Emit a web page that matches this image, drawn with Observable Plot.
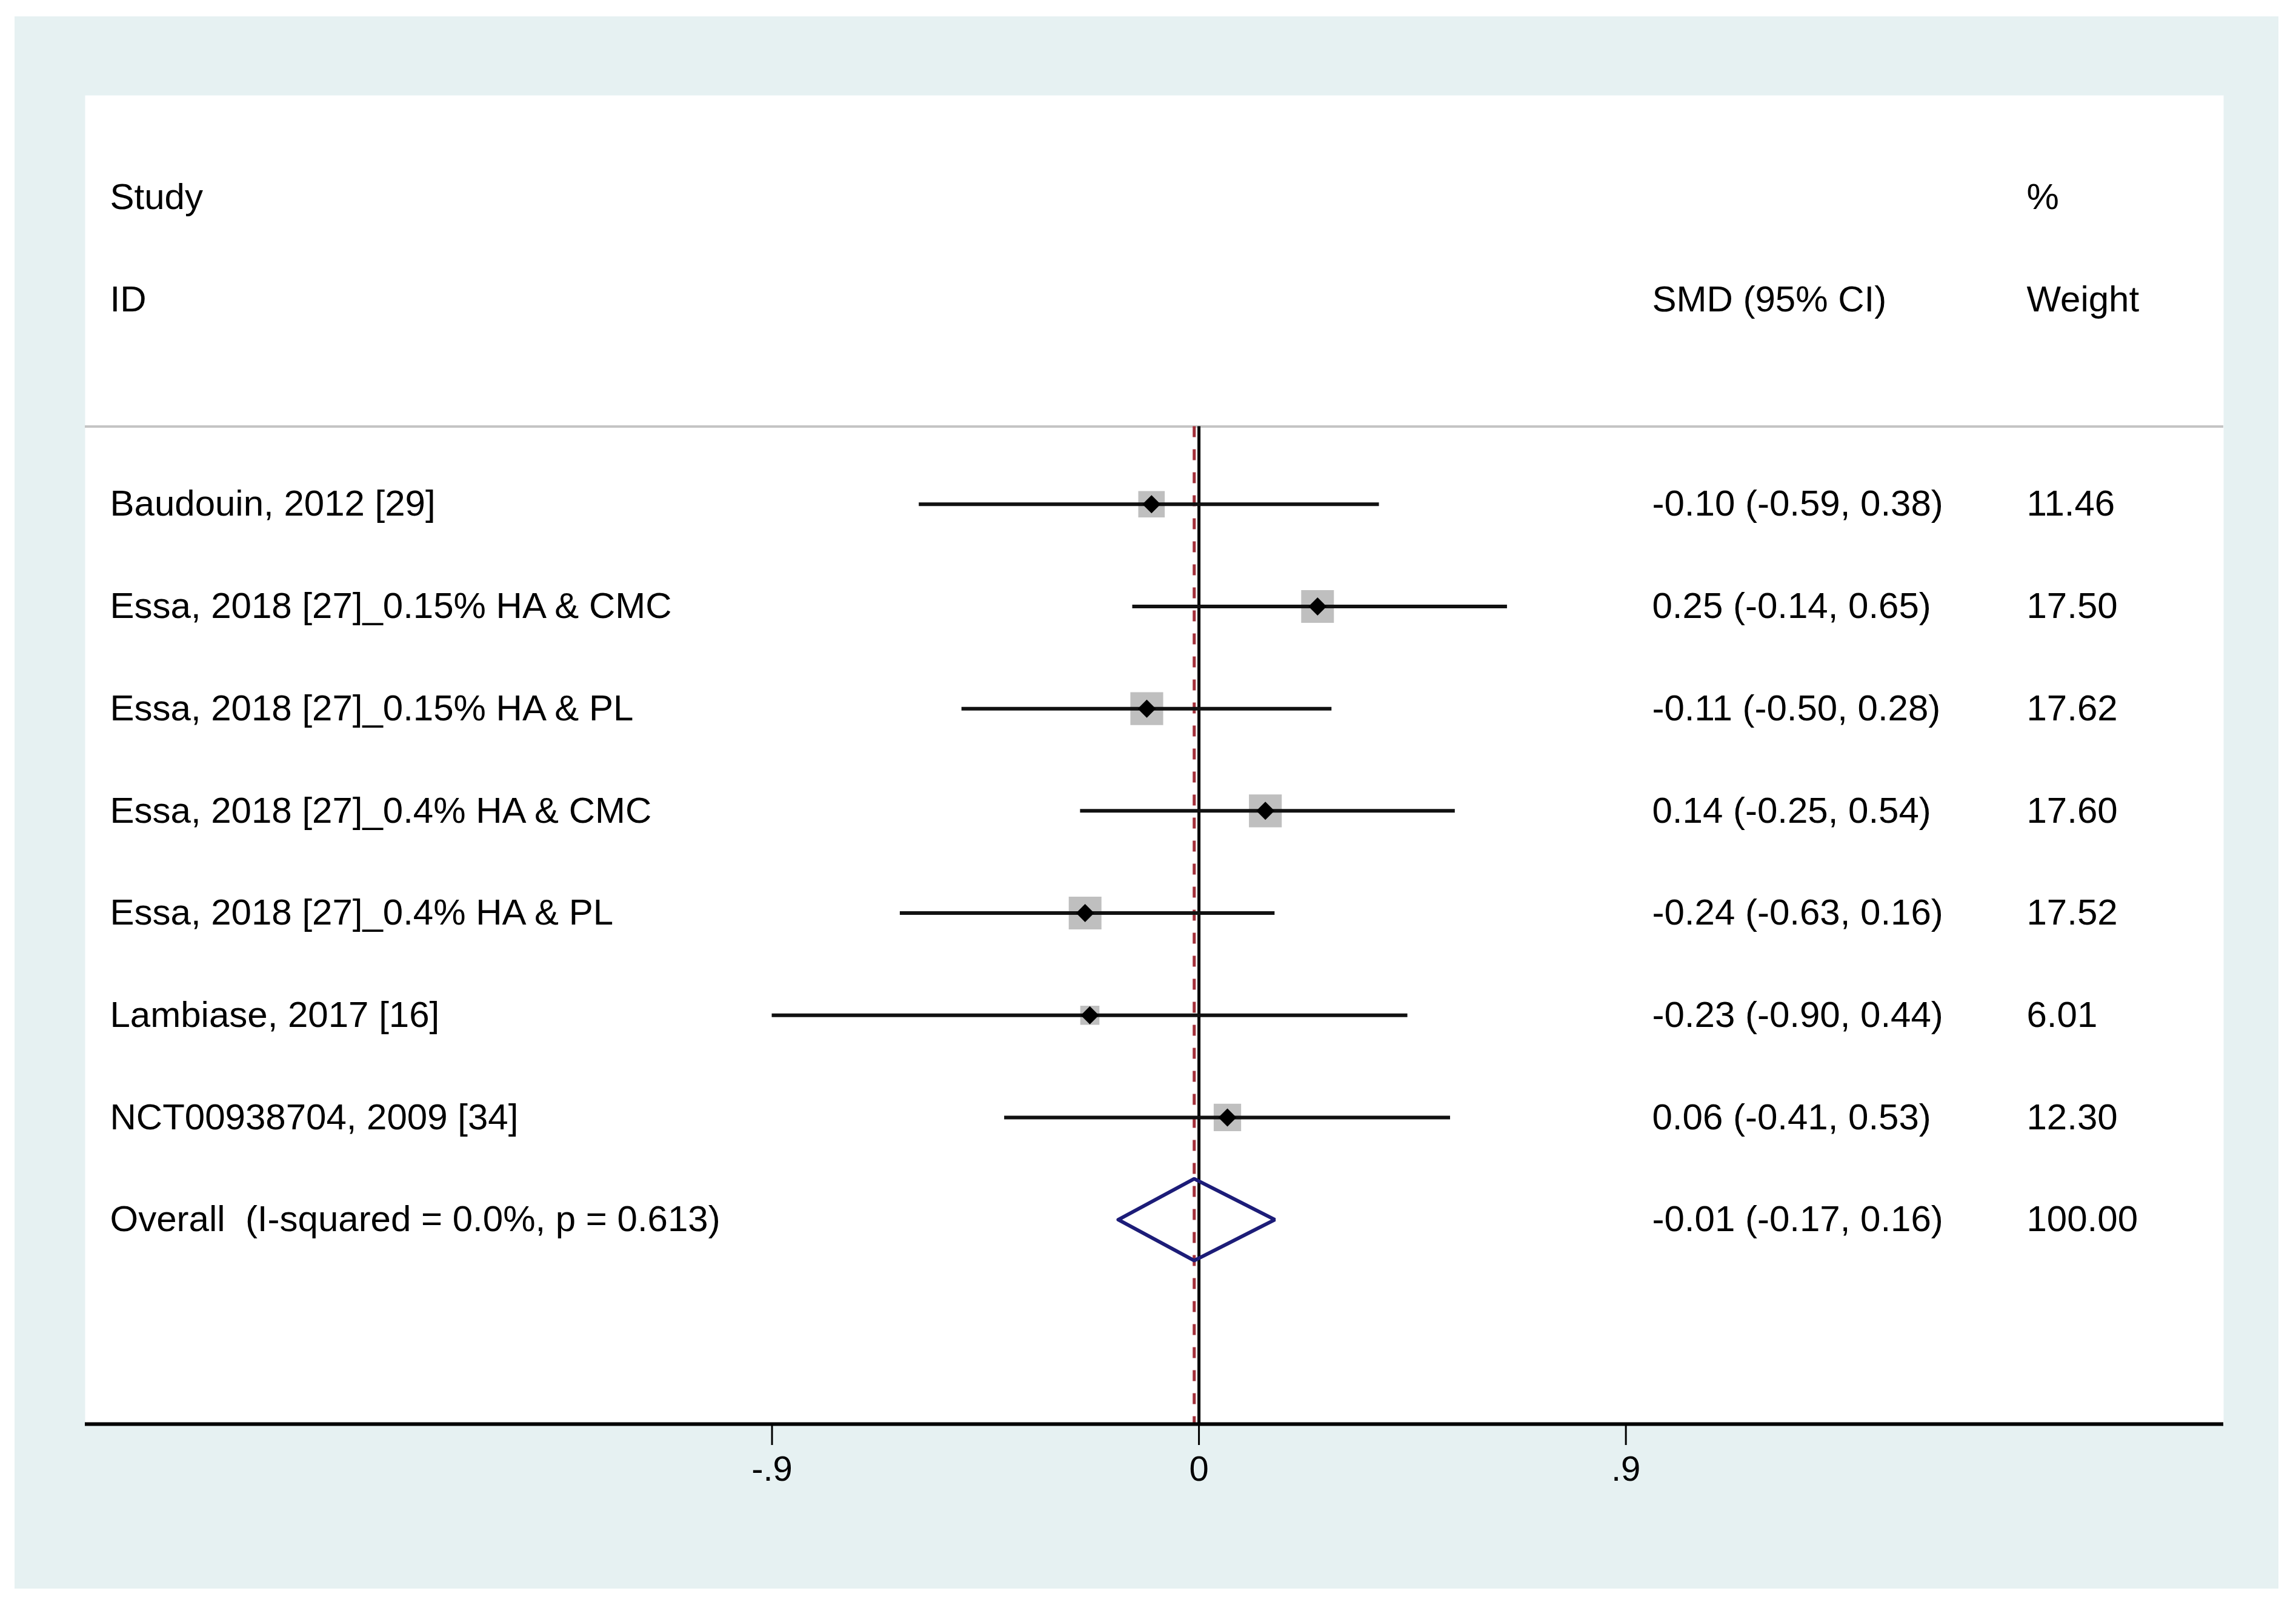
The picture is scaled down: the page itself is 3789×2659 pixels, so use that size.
<!DOCTYPE html>
<html>
<head>
<meta charset="utf-8">
<script src="https://cdn.jsdelivr.net/npm/d3@7"></script>
<script src="https://cdn.jsdelivr.net/npm/@observablehq/plot@0.6"></script>
<style>
  html, body { margin: 0; padding: 0; background: #ffffff; }
  #chart { position: absolute; left: 24px; top: 27px; }
  #chart svg text { white-space: pre; }
</style>
</head>
<body>
<div id="chart"></div>
<script>
// ---- data ----
const studies = [
  "Baudouin, 2012 [29]",
  "Essa, 2018 [27]_0.15% HA & CMC",
  "Essa, 2018 [27]_0.15% HA & PL",
  "Essa, 2018 [27]_0.4% HA & CMC",
  "Essa, 2018 [27]_0.4% HA & PL",
  "Lambiase, 2017 [16]",
  "NCT00938704, 2009 [34]"
];
const smd     = [-0.10, 0.25, -0.11, 0.14, -0.24, -0.23, 0.06];
const lower   = [-0.59, -0.14, -0.50, -0.25, -0.63, -0.90, -0.41];
const upper   = [ 0.38, 0.65,  0.28, 0.54,  0.16, 0.44, 0.53];
const weights = [11.46, 17.50, 17.62, 17.60, 17.52, 6.01, 12.30];

const overallLabel = "Overall  (I-squared = 0.0%, p = 0.613)";
const overallES = -0.01;
const overallLo = -0.17;
const overallHi = 0.16;
const overallWeight = 100.00;

const headerTop    = ["Study", "", "%"];
const headerBottom = ["ID", "SMD (95% CI)", "Weight"];

const tickValues = [-0.9, 0, 0.9];
const tickLabels = ["-.9", "0", ".9"];

// ---- layout (pixels / row units) ----
const W = 3736, H = 2595;
const mL = 116, mR = 91, mT = 130, mB = 272;
const xDomain = [-2.348, 2.160];
const yTop = -4, yBottom = 9;           // row units
const headerLineY = -0.76;
const colStudy = 41, colSMD = 2586, colWeight = 3204;  // px offsets from frame left
const diamondHalf = 0.4;

const fmt = v => v.toFixed(2);

const rows = studies.map((s, i) => ({
  i, study: s, es: smd[i], lo: lower[i], hi: upper[i], w: weights[i],
  ci: `${fmt(smd[i])} (${fmt(lower[i])}, ${fmt(upper[i])})`,
  wt: fmt(weights[i])
}));
const oi = rows.length;
const overallRow = {
  i: oi, study: overallLabel,
  ci: `${fmt(overallES)} (${fmt(overallLo)}, ${fmt(overallHi)})`,
  wt: fmt(overallWeight)
};
const textRows = [...rows, overallRow];
const headers = [
  ...headerTop.map((t, k) => ({i: -3, k, t})),
  ...headerBottom.map((t, k) => ({i: -2, k, t}))
];
const cols = [colStudy, colSMD, colWeight];

const diamond = [
  {x: overallLo, y: oi},
  {x: overallES, y: oi - diamondHalf},
  {x: overallHi, y: oi},
  {x: overallES, y: oi + diamondHalf},
  {x: overallLo, y: oi}
];

const font = "Liberation Sans, Arial, Helvetica, sans-serif";

const plot = Plot.plot({
  width: W, height: H,
  marginLeft: mL, marginRight: mR, marginTop: mT, marginBottom: mB,
  style: {background: "#e6f1f2", fontFamily: font, fontSize: "60px", color: "black"},
  x: {domain: xDomain, axis: null},
  y: {domain: [yBottom, yTop], axis: null},
  r: {type: "sqrt", domain: [0, 100], range: [0, 72.8]},
  marks: [
    Plot.frame({fill: "white", stroke: null}),
    Plot.ruleY([headerLineY], {stroke: "#c4c4c4", strokeWidth: 4}),
    Plot.ruleX([0], {y1: headerLineY, y2: yBottom, stroke: "black", strokeWidth: 5}),
    Plot.ruleX([overallES], {y1: headerLineY, y2: yBottom, stroke: "#a3303a", strokeWidth: 5, strokeDasharray: "18,20"}),
    Plot.dot(rows, {x: "es", y: "i", r: "w", symbol: "square", fill: "#bfbfbf", stroke: null}),
    Plot.ruleY(rows, {y: "i", x1: "lo", x2: "hi", stroke: "#111", strokeWidth: 6}),
    Plot.dot(rows, {x: "es", y: "i", symbol: "diamond2", r: 13.5, fill: "black", stroke: null}),
    Plot.line(diamond, {x: "x", y: "y", stroke: "#1c1c78", strokeWidth: 6, strokeLinejoin: "miter"}),
    Plot.ruleY([yBottom], {stroke: "black", strokeWidth: 6}),
    Plot.axisX({ticks: tickValues, tickFormat: d => tickLabels[tickValues.indexOf(d)],
      tickSize: 35, tickPadding: 17, fontSize: 58, strokeWidth: 3, stroke: "black", fill: "black", label: null}),
    Plot.text(textRows, {y: "i", text: "study", frameAnchor: "left", dx: colStudy, dy: 0, textAnchor: "start", fontSize: 60, fill: "black"}),
    Plot.text(textRows, {y: "i", text: "ci", frameAnchor: "left", dx: colSMD, dy: 0, textAnchor: "start", fontSize: 60, fill: "black"}),
    Plot.text(textRows, {y: "i", text: "wt", frameAnchor: "left", dx: colWeight, dy: 0, textAnchor: "start", fontSize: 60, fill: "black"}),
    ...[0, 1, 2].map(k => Plot.text(headers.filter(h => h.k === k && h.t), {y: "i", text: "t", frameAnchor: "left", dx: cols[k], dy: 0, textAnchor: "start", fontSize: 60, fill: "black"}))
  ]
});
document.getElementById("chart").appendChild(plot);
</script>
</body>
</html>
